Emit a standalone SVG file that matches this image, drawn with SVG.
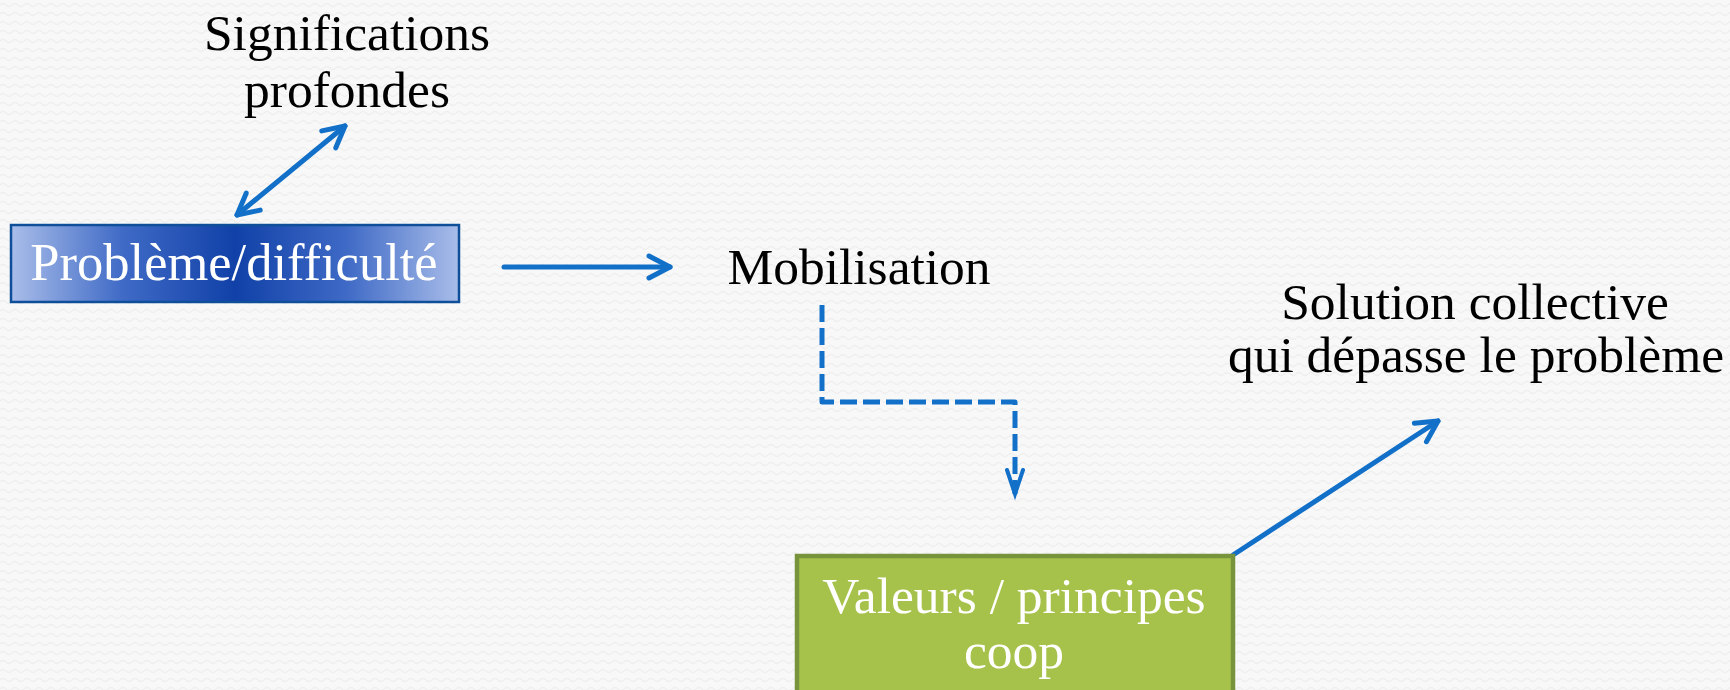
<svg xmlns="http://www.w3.org/2000/svg" width="1730" height="690" viewBox="0 0 1730 690">
<style>
.t{font-family:"Liberation Serif","Times New Roman",serif;font-size:51.5px;text-anchor:middle}
.dark{fill:#000}
.light{fill:#fff}
.c{fill:none;stroke:#1270c8;stroke-width:5;stroke-linecap:round;stroke-linejoin:round}
.dash{stroke-dasharray:17 6;stroke-linecap:butt}
</style>
<defs>
<pattern id="bg" width="12" height="9" patternUnits="userSpaceOnUse">
<rect width="12" height="9" fill="#f8f8f8"/>
<path d="M0,5 Q3,2 6,5 T12,5" fill="none" stroke="#efefef" stroke-width="1.2"/>
</pattern>
<linearGradient id="blueg" x1="0" y1="0" x2="1" y2="0">
<stop offset="0" stop-color="#a9bde9"/>
<stop offset="0.25" stop-color="#3f6ac6"/>
<stop offset="0.5" stop-color="#1141a8"/>
<stop offset="0.75" stop-color="#3f6ac6"/>
<stop offset="1" stop-color="#a9bde9"/>
</linearGradient>
<marker id="ah" markerUnits="userSpaceOnUse" markerWidth="40" markerHeight="40" refX="0" refY="0" viewBox="-30 -20 40 40" orient="auto-start-reverse" overflow="visible">
<path d="M-21,-11 L0,0 L-21,11" fill="none" stroke="#1270c8" stroke-width="5" stroke-linecap="round" stroke-linejoin="round" stroke-dasharray="none"/>
</marker>
<marker id="ahs" markerUnits="userSpaceOnUse" markerWidth="40" markerHeight="40" refX="0" refY="0" viewBox="-40 -20 50 40" orient="auto" overflow="visible">
<path d="M-30,-10 L0,0 L-30,10" fill="none" stroke="#1270c8" stroke-width="5" stroke-linecap="round" stroke-linejoin="miter" stroke-dasharray="none"/>
</marker>
</defs>
<rect width="1730" height="690" fill="url(#bg)"/>
<g id="connectors">
<line class="c" x1="237" y1="215" x2="345" y2="126" marker-start="url(#ah)" marker-end="url(#ah)"/>
<line class="c" x1="504" y1="267" x2="670" y2="267" marker-end="url(#ah)"/>
<path class="c dash" d="M822,305 V402 H1015 V494" marker-end="url(#ahs)"/>
<line class="c" x1="1233" y1="555" x2="1438" y2="421" marker-end="url(#ah)"/>
</g>
<g id="node-probleme">
<rect x="11" y="225" width="448" height="77" fill="url(#blueg)" stroke="#0f4f99" stroke-width="2.5"/>
<text class="t light" x="234" y="280" style="font-size:52.5px">Problème/difficulté</text>
</g>
<g id="node-significations">
<text class="t dark" x="347" y="50">Significations</text>
<text class="t dark" x="347" y="107">profondes</text>
</g>
<g id="node-mobilisation">
<text class="t dark" x="859" y="284">Mobilisation</text>
</g>
<g id="node-valeurs">
<rect x="797" y="556" width="436" height="150" fill="#a6c24a" stroke="#77933c" stroke-width="4.5"/>
<text class="t light" x="1014" y="613">Valeurs / principes</text>
<text class="t light" x="1014" y="668">coop</text>
</g>
<g id="node-solution">
<text class="t dark" x="1475" y="319">Solution collective</text>
<text class="t dark" x="1476" y="372">qui dépasse le problème</text>
</g>
</svg>
